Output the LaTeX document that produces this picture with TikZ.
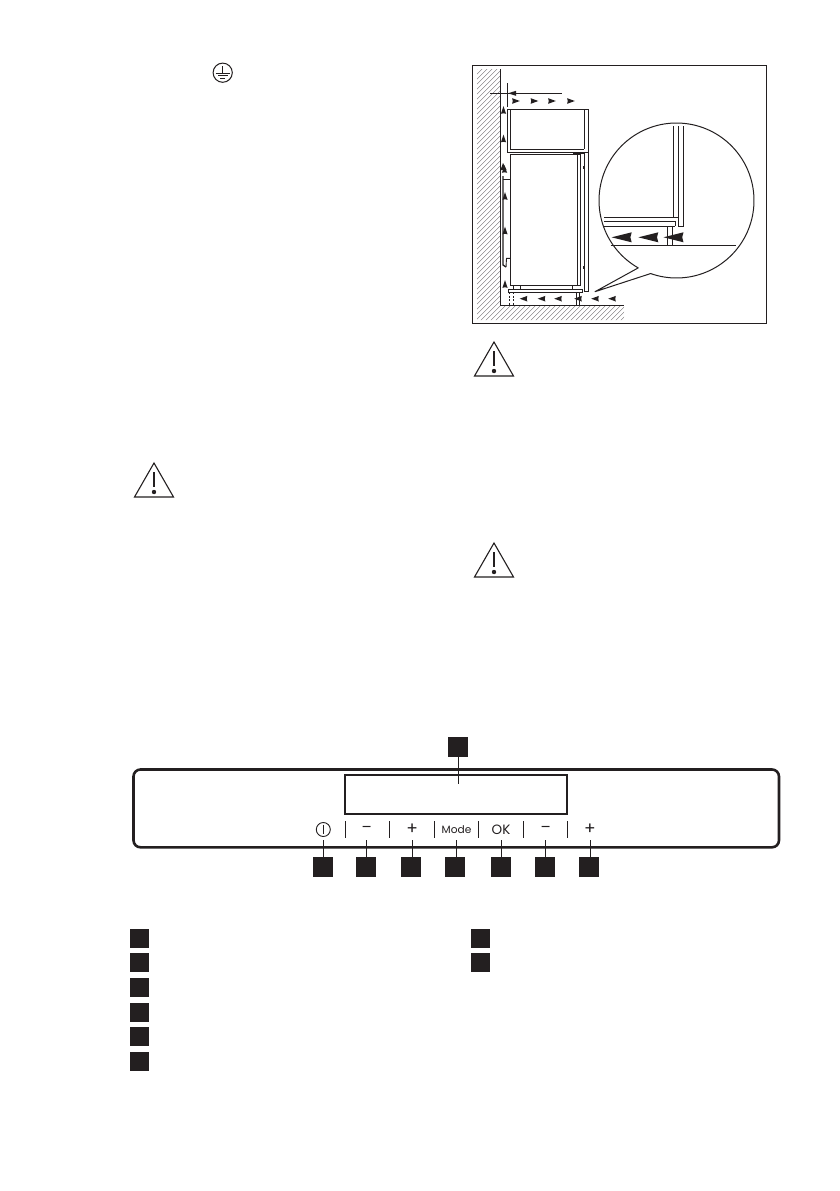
\documentclass[tikz,border=0pt]{standalone}
\usepackage{fontspec}
\setmainfont{Poppins}
\newcommand{\smL}[2]{\fill[inkc] (#1-3.8,#2) -- (#1+3.8,#2-2.8) -- (#1+3.3,#2) -- (#1+3.8,#2+2.8) -- cycle;}
\newcommand{\smR}[2]{\fill[inkc] (#1+3.8,#2) -- (#1-3.8,#2-2.8) -- (#1-3.3,#2) -- (#1-3.8,#2+2.8) -- cycle;}
\newcommand{\smU}[2]{\fill[inkc] (#1,#2-3.8) -- (#1-2.6,#2+3.8) -- (#1,#2+3.3) -- (#1+2.6,#2+3.8) -- cycle;}
\newcommand{\bigL}[2]{\fill[inkc] (#1,#2) -- (#1+20,#2-5) -- (#1+18.7,#2) -- (#1+20,#2+5) -- cycle;}
\newcommand{\warnsign}[2]{%
  \draw[inkc,line width=1.1,line join=miter] (#1,#2) -- (#1+19.5,#2+34) -- (#1-19.5,#2+34) -- cycle;
  \draw[inkc,line width=1.7] (#1,#2+9) -- (#1,#2+24);
  \fill[inkc] (#1,#2+29) circle[radius=2.2];}
\definecolor{inkc}{HTML}{231F20}
\tikzset{
  sqbox/.style={fill=inkc,inner sep=0pt,outer sep=0pt,minimum size=#1},
  thinline/.style={draw=inkc,line width=0.9},
  hatchline/.style={draw=inkc!65,line width=0.35},
  lead/.style={draw=inkc,line width=1},
  sepline/.style={draw=inkc,line width=0.9},
  keytext/.style={inkc,inner sep=0pt,outer sep=0pt,font=\fontsize{10}{10}\selectfont}
}
\begin{document}
\begin{tikzpicture}[x=1pt,y=-1pt]
\useasboundingbox (0,0) rectangle (839,1191);
\fill[white] (0,0) rectangle (839,1191);

% earth symbol
\draw[inkc,line width=1] (222.7,72.7) circle[radius=9.6];
\draw[inkc,line width=0.9] (222.7,66) -- (222.7,73);
\draw[inkc,line width=0.9] (215.5,73) -- (230,73);
\draw[inkc,line width=0.9] (218,75.6) -- (227.5,75.6);
\draw[inkc,line width=0.9] (220.4,78.1) -- (225,78.1);

% figure frame
\draw[inkc,line width=1] (472,65.5) rectangle (766,323);

% hatching
\begin{scope}
\clip (477,69) -- (500.5,69) -- (500.5,305) -- (624,305) -- (624,320) -- (477,320) -- cycle;
\foreach \c in {546,551,...,946} {
  \draw[hatchline] (450,\c-450) -- (650,\c-650);
}
\end{scope}
% wall and floor
\draw[thinline] (500.5,69) -- (500.5,305) -- (624,305);

% dimension marks
\draw[thinline] (507.3,83) -- (507.3,107);
\draw[thinline] (490,93.3) -- (561.7,93.3);
\fill[inkc] (508,93.3) -- (516,90.8) -- (516,95.8) -- cycle;

% top cabinet
\draw[thinline] (507.3,109.3) rectangle (588.3,152.3);
\draw[thinline] (510.3,109.3) -- (510.3,149.3) -- (584.3,149.3);
\draw[thinline] (584.3,109.3) -- (584.3,149.3);

% fridge
\draw[thinline] (577.7,285.7) -- (510.3,285.7) -- (510.3,154.3) -- (580,154.3);
\draw[thinline] (577.7,154.3) -- (577.7,285.7);
\draw[thinline] (580,154.3) -- (580,285.7) -- (577.7,285.7);
\draw[thinline] (584.3,152.3) -- (584.3,291.7) -- (588.3,291.7) -- (588.3,152.3);
\draw[inkc,line width=1.6] (573,153.5) -- (584,153.5);
\draw[inkc,line width=1.4] (583.3,166) -- (583.3,169);
\draw[inkc,line width=1.4] (583.3,266) -- (583.3,269);

% base and feet
\draw[thinline] (508.3,289) rectangle (582.7,292.3);
\draw[thinline] (513.5,285.7) -- (513.5,289);
\draw[thinline] (520.7,285.7) -- (520.7,289);
\draw[thinline] (572,285.7) -- (572,289);
\draw[thinline] (576,292.3) -- (576,305);
\draw[thinline] (579.7,292.3) -- (579.7,305);
\draw[thinline,dash pattern=on 2pt off 1.5pt] (509.3,292.3) -- (509.3,305);
\draw[thinline,dash pattern=on 2pt off 1.5pt] (513.7,292.3) -- (513.7,305);

% condenser
\draw[thinline] (510.3,179) -- (503,179);
\draw[inkc,line width=1.3] (503,176) -- (503,265) -- (506,267);
\draw[thinline] (506,267) -- (506.5,258.3) -- (510.3,258.3);

% air-flow arrows
\smR{516}{101}\smR{534.5}{101}\smR{552}{101}\smR{571}{101}
\smU{503.5}{110}\smU{503.5}{138.5}\smU{504.5}{169}\smU{505}{196}\smU{505}{230.5}\smU{505}{284}
\smL{523.5}{298.7}\smL{541.5}{298.7}\smL{558}{298.7}\smL{578}{298.7}\smL{595}{298.7}\smL{612}{298.7}
\fill[inkc] (503,163) -- (506.5,170) -- (500.5,170) -- cycle;

% magnified circle with pointer
\draw[inkc,line width=1,line join=round]
  plot[domain=119.6:469.5,samples=140] ({676.5+77.5*cos(\x)},{200.5+77.5*sin(\x)})
  -- (595,291.7) -- cycle;
\draw[inkc,line width=1.4] (673.5,126) -- (673.5,217.7);
\draw[thinline] (678.7,126) -- (678.7,226.3) -- (683.7,226.3) -- (683.7,126);
\draw[thinline] (604,217.7) -- (678.7,217.7);
\draw[thinline] (604,221.7) -- (675,221.7) -- (675,226.3);
\draw[thinline] (604,226.3) -- (675,226.3);
\draw[thinline] (667.3,226.3) -- (667.3,245);
\draw[thinline] (672.3,226.3) -- (672.3,245);
\draw[inkc,line width=0.9] (610.7,245) -- (736,245);
\bigL{611.7}{237.3}\bigL{638.3}{237.3}\bigL{663.5}{237.3}

% warning signs
\warnsign{154}{463}
\warnsign{494}{342}
\warnsign{494}{543}

% control panel
\draw[inkc,line width=2.6,rounded corners=7] (133.5,769.5) rectangle (779,847.3);
\draw[inkc,line width=1.8] (344.7,775) rectangle (567.3,813.7);

\foreach \sx in {345.3,389.3,434.3,478.5,523.3,567.3} {
  \draw[sepline] (\sx,821) -- (\sx,837.7);
}

% key labels
\node[draw=inkc,line width=0.9,circle,minimum size=14pt,inner sep=0pt] (kpower) at (323.3,829.5) {};
\draw[inkc,line width=0.9] (kpower.north) ++(0,2.5) -- ++(0,9);
\node[keytext] (kminusa) at (366.7,829.5) {\fontsize{15}{15}\selectfont –};
\node[keytext] (kplusa) at (412.3,829.5) {\fontsize{17}{17}\selectfont +};
\node[keytext] (kmode) at (456.5,829.5) {\fontsize{10.6}{11}\selectfont Mode};
\node[keytext] (kok) at (501,829.5) {\fontsize{13.5}{14}\selectfont OK};
\node[keytext] (kminusb) at (545.7,829.5) {\fontsize{15}{15}\selectfont –};
\node[keytext] (kplusb) at (590,829.5) {\fontsize{17}{17}\selectfont +};

% callout squares
\node[sqbox=20pt] (btop) at (458.2,746.8) {};
\node[sqbox=20pt] (b1) at (323,867) {};
\node[sqbox=20pt] (b2) at (366,867) {};
\node[sqbox=20pt] (b3) at (411,867) {};
\node[sqbox=20pt] (b4) at (455,867) {};
\node[sqbox=20pt] (b5) at (501,867) {};
\node[sqbox=20pt] (b6) at (545,867) {};
\node[sqbox=20pt] (b7) at (589,867) {};

\coordinate (ctop) at (458.3,784);
\coordinate (c1) at (323.3,840);
\coordinate (c2) at (366.7,840);
\coordinate (c3) at (412.3,840);
\coordinate (c4) at (456.3,840);
\coordinate (c5) at (501,840);
\coordinate (c6) at (545.7,840);
\coordinate (c7) at (590,840);
\draw[lead] (ctop |- btop.south) -- (ctop);
\foreach \i in {1,...,7} {
  \draw[lead] (c\i |- b\i.north) -- (c\i);
}

% legend squares
\node[sqbox=19pt] (l1) at (139.5,938) {};
\node[sqbox=19pt] (l2) at (139.5,962.5) {};
\node[sqbox=19pt] (l3) at (139.5,987.5) {};
\node[sqbox=19pt] (l4) at (139.5,1012) {};
\node[sqbox=19pt] (l5) at (139.5,1036.5) {};
\node[sqbox=19pt] (l6) at (139.5,1061.5) {};
\node[sqbox=19pt] (l7) at (480,938) {};
\node[sqbox=19pt] (l8) at (480,962.5) {};
\end{tikzpicture}
\end{document}
